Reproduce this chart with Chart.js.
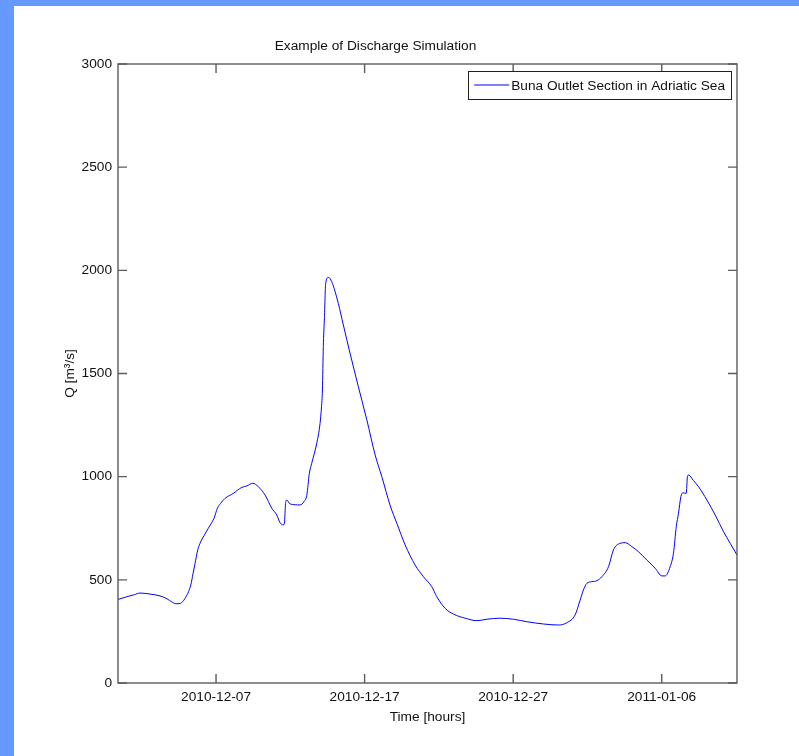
<!DOCTYPE html>
<html><head><meta charset="utf-8">
<script src="https://cdn.jsdelivr.net/npm/chart.js@4.4.1/dist/chart.umd.min.js"></script>
<style>
html,body{margin:0;padding:0;background:#6699ff;width:799px;height:756px;overflow:hidden}
#wrap{position:absolute;left:14px;top:6px;width:785px;height:750px;background:#fff}
canvas{display:block}
</style></head><body>
<div id="wrap"><canvas id="c" width="785" height="750"></canvas></div>
<script>
// ---- data (days since 2010-11-30 00:00, discharge m3/s) ----
const START_DATE = '2010-11-30';
const days = [0.40,0.99,1.50,1.88,2.55,3.23,3.70,4.02,4.30,4.60,4.91,5.30,5.45,5.59,5.75,5.92,6.20,6.48,6.86,7.09,7.30,7.61,8.16,8.73,9.07,9.47,9.85,10.30,10.75,11.09,11.31,11.53,11.60,11.68,11.76,11.98,12.66,12.93,13.11,13.28,13.44,13.78,14.00,14.10,14.16,14.22,14.29,14.38,14.56,14.79,15.00,15.23,15.57,16.02,16.58,17.15,17.71,18.16,18.72,19.17,19.73,20.40,20.96,21.52,21.86,22.42,22.98,23.77,24.56,25.23,26.12,27.02,27.92,29.04,30.05,30.61,31.17,31.51,31.73,31.96,32.30,32.64,32.97,33.42,33.75,34.20,34.54,34.99,35.44,36.00,36.56,37.01,37.23,37.57,37.79,37.98,38.13,38.29,38.42,38.65,38.73,38.80,39.14,39.48,40.04,40.60,41.16,41.61,42.067];
const discharge = [405,418,428,436,431,422,408,393,384,386,410,475,530,580,640,677,715,750,798,847,870,895,919,948,955,968,951,911,847,814,777,766,775,870,887,868,863,880,910,1016,1065,1162,1258,1340,1420,1630,1759,1937,1966,1945,1900,1840,1735,1598,1436,1275,1105,1000,860,774,669,572,515,467,418,362,334,314,302,309,314,309,297,286,281,292,330,402,451,483,491,496,515,564,645,677,680,661,636,596,556,519,519,564,629,758,823,903,922,919,1000,1008,981,951,887,814,733,677,620];
const xTickLabels = ['2010-12-07','2010-12-17','2010-12-27','2011-01-06'];
const yTickValues = [0,500,1000,1500,2000,2500,3000];
const xRange = [0.4, 42.067];
const seriesLabel = 'Buna Outlet Section in Adriatic Sea';
const titleText = 'Example of Discharge Simulation';
const xTitleText = 'Time [hours]';
const yTitleText = 'Q [m\u00b3/s]';

const tickDays = xTickLabels.map(s => (Date.parse(s) - Date.parse(START_DATE)) / 864e5);

// font selection: narrow Helvetica-like if available
function fontWidth(fam, size, txt){
  const c = document.createElement('canvas').getContext('2d');
  c.font = size + 'px ' + fam; return c.measureText(txt).width;
}
let FAMILY = '"Liberation Sans Narrow", "Arial Narrow", "Liberation Sans", Arial, sans-serif';
if (fontWidth('"Liberation Sans Narrow", monospace', 20, '2010-12-07 Example') === fontWidth('monospace', 20, '2010-12-07 Example')) {
  FAMILY = '"Liberation Sans", Arial, sans-serif';
}
const SIZE = Math.round(10 * 16 * 70 / fontWidth(FAMILY, 16, '2010-12-07')) / 10;
const FONT = {family: FAMILY, size: SIZE, lineHeight: 1.2};
const LH = SIZE * 1.2;
const TXT = '#111';

const AXIS_COLOR = '#5c5c5c';
const TICK_LEN = 9;

const framePlugin = {
  id: 'frame',
  afterDatasetsDraw(chart) {
    const {ctx, chartArea: a, scales: {x, y}} = chart;
    ctx.save();
    ctx.strokeStyle = AXIS_COLOR;
    ctx.lineWidth = 1.4;
    ctx.strokeRect(a.left, a.top, a.right - a.left, a.bottom - a.top);
    ctx.beginPath();
    tickDays.forEach(v => {
      const px = x.getPixelForValue(v);
      ctx.moveTo(px, a.bottom); ctx.lineTo(px, a.bottom - TICK_LEN);
      ctx.moveTo(px, a.top); ctx.lineTo(px, a.top + TICK_LEN);
    });
    yTickValues.forEach(v => {
      const py = y.getPixelForValue(v);
      ctx.moveTo(a.left, py); ctx.lineTo(a.left + TICK_LEN, py);
      ctx.moveTo(a.right, py); ctx.lineTo(a.right - TICK_LEN, py);
    });
    ctx.stroke();
    ctx.restore();
  },
  afterDraw(chart) {
    const {ctx, chartArea: a} = chart;
    const ds = chart.data.datasets[0];
    ctx.save();
    ctx.font = SIZE + 'px ' + FAMILY;
    const tw = ctx.measureText(ds.label).width;
    const lineLen = 35, pad = 6, gap = 2;
    const w = pad + lineLen + gap + tw + 6;
    const h = 28;
    const right = a.right - 6, top = a.top + 7;
    const left = right - w;
    ctx.fillStyle = '#fff';
    ctx.fillRect(left, top, w, h);
    ctx.strokeStyle = '#222';
    ctx.lineWidth = 1;
    ctx.strokeRect(Math.round(left) + 0.5, Math.round(top) + 0.5, Math.round(w), Math.round(h));
    const cy = top + h / 2;
    ctx.strokeStyle = ds.borderColor;
    ctx.beginPath(); ctx.moveTo(left + pad, cy); ctx.lineTo(left + pad + lineLen, cy); ctx.stroke();
    ctx.fillStyle = TXT;
    ctx.textBaseline = 'middle';
    ctx.textAlign = 'left';
    ctx.fillText(ds.label, left + pad + lineLen + gap, cy + 1);
    ctx.restore();
  }
};

// layout targets (canvas coords): chartArea left 104, right 723, top 58, bottom 677
const TITLE_CENTER = 40;
new Chart(document.getElementById('c'), {
  type: 'line',
  data: {
    datasets: [{
      label: seriesLabel,
      data: days.map((d, i) => ({x: d, y: discharge[i]})),
      borderColor: '#0000ff',
      borderWidth: 1,
      pointRadius: 0,
      fill: false,
      cubicInterpolationMode: 'monotone'
    }]
  },
  options: {
    responsive: false,
    animation: false,
    devicePixelRatio: 1,
    layout: {padding: {left: 0, right: 62, top: 0, bottom: 0}},
    plugins: {
      legend: {display: false},
      tooltip: {enabled: false},
      title: {
        display: true, text: titleText, color: TXT, font: {...FONT, weight: 'normal'},
        padding: {top: TITLE_CENTER - LH / 2, bottom: 58 - (TITLE_CENTER - LH / 2) - LH}
      }
    },
    scales: {
      x: {
        type: 'linear', min: xRange[0], max: xRange[1],
        grid: {display: false, drawTicks: false, tickLength: 0},
        border: {display: false},
        afterBuildTicks: s => { s.ticks = tickDays.map(v => ({value: v})); },
        afterFit: s => { s.height = 73; },
        ticks: {
          autoSkip: false, maxRotation: 0, padding: 6, color: TXT, font: FONT,
          callback: v => xTickLabels[tickDays.indexOf(v)]
        },
        title: {display: true, text: xTitleText, color: TXT, font: FONT, padding: {top: 0, bottom: 750 - 711 - LH / 2}}
      },
      y: {
        min: 0, max: 3000,
        grid: {display: false, drawTicks: false, tickLength: 0},
        border: {display: false},
        afterBuildTicks: s => { s.ticks = yTickValues.map(v => ({value: v})); },
        afterFit: s => { s.width = 104; },
        ticks: {padding: 6, color: TXT, font: FONT, callback: v => String(v)},
        title: {display: true, text: yTitleText, color: TXT, font: FONT, padding: {top: 56 - LH / 2, bottom: 0}}
      }
    }
  },
  plugins: [framePlugin]
});
</script>
</body></html>
